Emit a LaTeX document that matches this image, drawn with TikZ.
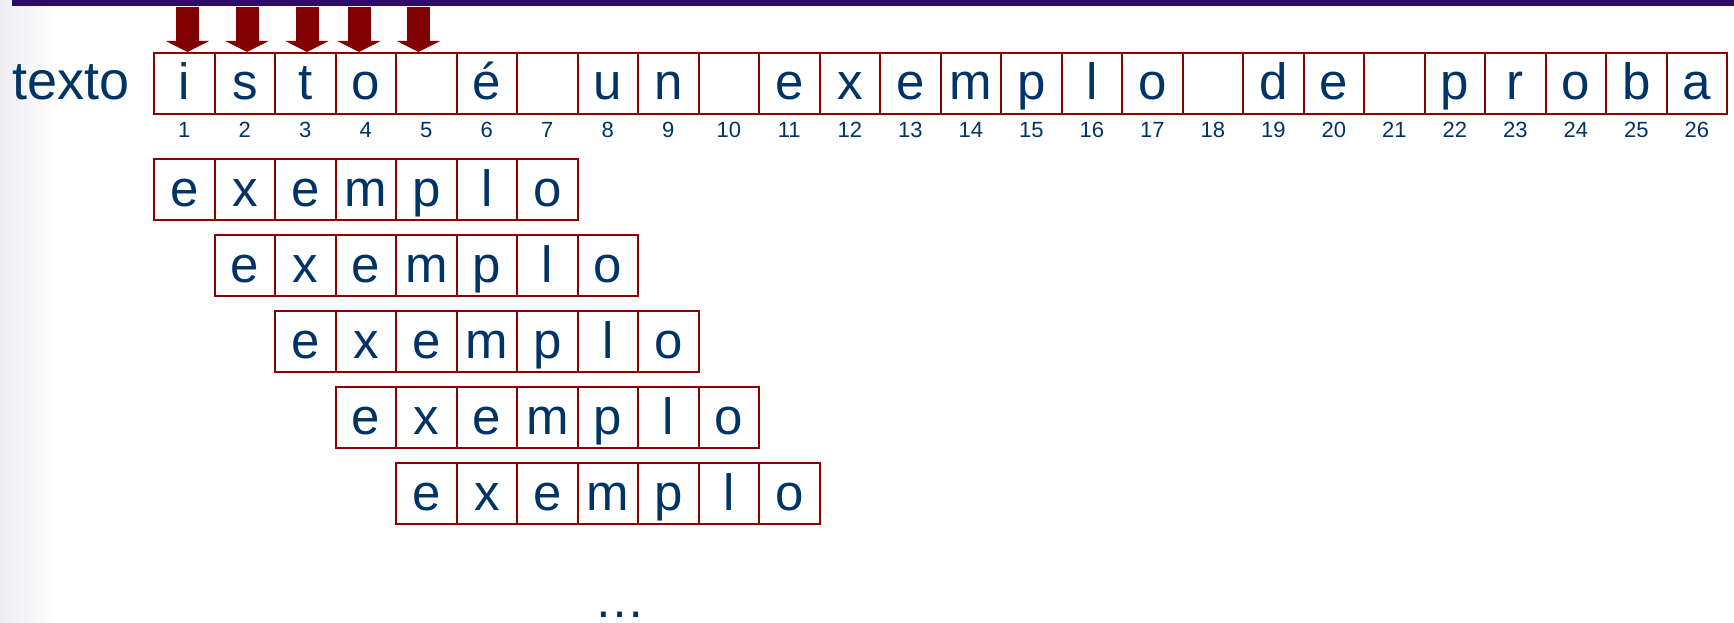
\documentclass[tikz,border=0pt]{standalone}
\usepackage{fontspec}
\setmainfont{Liberation Sans}
\usetikzlibrary{arrows.meta}
\definecolor{txtblue}{RGB}{0,51,102}
\definecolor{cellred}{RGB}{139,0,0}
\definecolor{arrowred}{RGB}{128,0,0}
\definecolor{barpurple}{RGB}{46,10,106}
\definecolor{leftgray}{RGB}{238,238,241}
\begin{document}
\begin{tikzpicture}[x=1pt,y=-1pt,
  cell/.style={draw=cellred, line width=2pt, minimum width=60.5pt, minimum height=61pt,
    inner sep=0pt, text height=33pt, text depth=0pt,
    font=\fontsize{51}{60}\selectfont, text=txtblue},
  idx/.style={anchor=base, inner sep=0pt, font=\fontsize{22}{26}\selectfont, text=txtblue},
  bigtext/.style={inner sep=0pt, font=\fontsize{51}{60}\selectfont, text=txtblue},
  blockarrow/.style={draw=arrowred, line width=23pt, -{Triangle[width=43pt,length=11pt]}}]
\useasboundingbox (0,0) rectangle (1734,623);
\fill[white] (0,0) rectangle (1734,623);
\shade[left color=leftgray, right color=white] (0,0) rectangle (60,623);
\fill[barpurple] (12,0) rectangle (1734,6);
% label
\node[bigtext, anchor=base west, font=\fontsize{54}{60}\selectfont] (lbl) at (12,100) {texto};
% text cells
\foreach \c [count=\i] in {i,s,t,o,{},é,{},u,n,{},e,x,e,m,p,l,o,{},d,e,{},p,r,o,b,a}{
  \node[cell] (t\i) at ({154+60.5*(\i-0.5)},83.5) {\c};
  \node[idx] (n\i) at ({154+60.5*(\i-0.5)},138) {\i};
}
% pattern rows
\foreach \r in {0,...,4}{
  \foreach \c [count=\j] in {e,x,e,m,p,l,o}{
    \node[cell] (p\r-\j) at ({154+60.5*(\r+\j-0.5)},{189.5+76*\r}) {\c};
  }
}
% arrows
\foreach \k/\ax in {1/187.5,2/247,3/307,4/359,5/418.5}{
  \coordinate (as\k) at (\ax,7);
  \coordinate (ae\k) at (\ax,52);
  \draw[blockarrow] (as\k) -- (ae\k);
}
% ellipsis
\node[bigtext, anchor=base, text height=6pt, text depth=0pt] (dots) at (620,617) {…};
\end{tikzpicture}
\end{document}
